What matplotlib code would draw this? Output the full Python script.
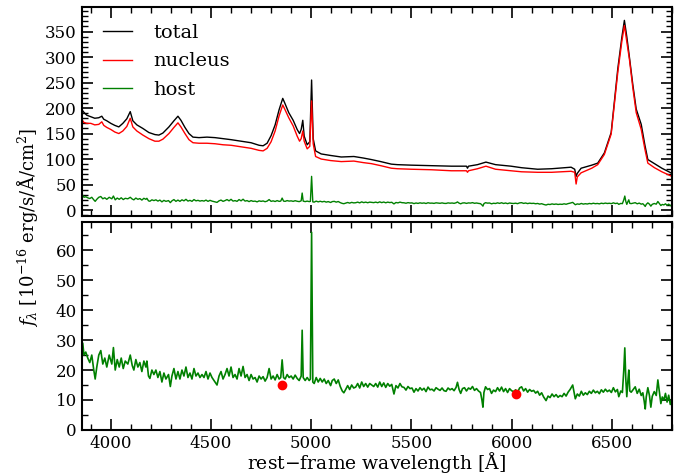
import matplotlib
matplotlib.use("Agg")
import matplotlib.pyplot as plt
from matplotlib.ticker import MultipleLocator

plt.rcParams['font.family'] = 'DejaVu Serif'
plt.rcParams['mathtext.fontset'] = 'dejavuserif'

# total / nucleus spectra
wave = [3855, 3865, 3880, 3900, 3920, 3940, 3955, 3965, 3980, 4000, 4020, 4040,
        4060, 4080, 4097, 4110, 4130, 4160, 4190, 4220, 4240, 4260, 4290, 4315,
        4335, 4350, 4370, 4390, 4410, 4440, 4480, 4520, 4560, 4600, 4650, 4700,
        4740, 4760, 4780, 4800, 4820, 4840, 4858, 4868, 4888, 4910, 4930, 4942,
        4950, 4958, 4965, 4980, 4993, 5002, 5010, 5022, 5050, 5097, 5150, 5213,
        5260, 5300, 5347, 5400, 5430, 5500, 5600, 5700, 5775, 5780, 5785, 5830,
        5872, 5920, 5997, 6050, 6130, 6200, 6297, 6315, 6322, 6328, 6347, 6400,
        6430, 6463, 6497, 6530, 6550, 6563, 6575, 6588, 6605, 6622, 6647, 6665,
        6680, 6713, 6750, 6800]
nucleus = [178, 172, 170, 170, 167, 168, 173, 166, 162, 158, 153, 150,
           155, 164, 180, 163, 155, 147, 140, 135, 135, 139, 150, 162,
           171, 163, 150, 138, 132, 131, 131, 130, 128, 127, 124, 121,
           117, 116, 121, 134, 155, 185, 206, 198, 181, 165, 145, 135,
           140, 155, 135, 120, 125, 214, 130, 105, 100, 97, 95, 96,
           93, 91, 87, 82, 81, 80, 79, 77, 77, 74, 77, 81,
           86, 80, 77, 75, 74, 74, 76, 74, 51, 65, 73, 82,
           89, 109, 149, 270, 330, 362, 330, 296, 240, 191, 158, 120,
           92, 83, 75, 66]
total = [197, 192, 186, 183, 180, 181, 184, 178, 175, 170, 166, 163,
         170, 179, 193, 175, 167, 160, 152, 148, 147, 151, 163, 175,
         184, 176, 162, 150, 143, 142, 143, 142, 140, 138, 135, 132,
         127, 126, 131, 146, 167, 197, 219, 210, 191, 176, 158, 150,
         158, 176, 145, 128, 134, 255, 140, 116, 110, 107, 104, 105,
         102, 99, 95, 90, 89, 88, 87, 86, 86, 82, 86, 89,
         94, 89, 86, 83, 80, 81, 84, 80, 66, 72, 82, 88,
         92, 112, 152, 277, 338, 372, 340, 300, 246, 198, 168, 128,
         99, 91, 82, 72]

# host galaxy spectrum
host_wave = [3855, 3860, 3866, 3875, 3885, 3895, 3905, 3915, 3922, 3930, 3940, 3950,
             3960, 3970, 3980, 3992, 4005, 4013, 4022, 4032, 4042, 4052, 4062, 4072,
             4085, 4097, 4107, 4115, 4125, 4135, 4145, 4155, 4165, 4175, 4180, 4188,
             4195, 4205, 4215, 4225, 4235, 4245, 4255, 4265, 4275, 4288, 4297, 4305,
             4315, 4325, 4335, 4345, 4355, 4365, 4375, 4385, 4395, 4405, 4415, 4425,
             4435, 4445, 4455, 4465, 4475, 4485, 4495, 4505, 4515, 4530, 4540, 4550,
             4560, 4570, 4580, 4590, 4600, 4610, 4620, 4630, 4640, 4650, 4660, 4670,
             4680, 4690, 4700, 4710, 4720, 4730, 4740, 4750, 4760, 4770, 4780, 4790,
             4800, 4810, 4820, 4830, 4840, 4848, 4855, 4862, 4870, 4880, 4890, 4900,
             4910, 4920, 4930, 4940, 4950, 4955, 4960, 4970, 4980, 4990, 4996, 5002,
             5008, 5015, 5025, 5035, 5045, 5055, 5065, 5075, 5085, 5097, 5105, 5115,
             5125, 5135, 5145, 5155, 5163, 5172, 5182, 5192, 5202, 5212, 5222, 5232,
             5242, 5252, 5262, 5272, 5282, 5292, 5302, 5312, 5322, 5332, 5342, 5352,
             5362, 5372, 5382, 5392, 5402, 5413, 5423, 5433, 5443, 5453, 5463, 5473,
             5483, 5493, 5503, 5513, 5523, 5533, 5543, 5553, 5563, 5573, 5583, 5593,
             5603, 5613, 5623, 5633, 5643, 5653, 5663, 5673, 5683, 5693, 5703, 5713,
             5723, 5730, 5738, 5746, 5755, 5765, 5775, 5785, 5795, 5805, 5815, 5825,
             5835, 5845, 5852, 5857, 5862, 5870, 5880, 5890, 5900, 5910, 5920, 5930,
             5940, 5950, 5960, 5970, 5980, 5990, 6000, 6010, 6020, 6030, 6040, 6050,
             6060, 6070, 6080, 6090, 6100, 6110, 6120, 6130, 6140, 6150, 6160, 6172,
             6182, 6192, 6202, 6212, 6222, 6232, 6242, 6252, 6262, 6272, 6282, 6292,
             6305, 6312, 6318, 6328, 6338, 6348, 6358, 6368, 6378, 6388, 6398, 6408,
             6418, 6428, 6438, 6448, 6458, 6468, 6478, 6488, 6498, 6508, 6518, 6528,
             6535, 6545, 6553, 6560, 6565, 6570, 6575, 6580, 6585, 6590, 6597, 6607,
             6617, 6627, 6637, 6647, 6655, 6662, 6667, 6672, 6680, 6688, 6695, 6702,
             6712, 6722, 6730, 6738, 6745, 6752, 6760, 6768, 6776, 6784, 6792, 6800]
host = [24, 29, 25, 26, 24, 22.5, 25, 20, 17, 21, 25, 26.5,
        22, 24, 21, 25, 22, 27.5, 20, 23.5, 21, 24, 20.5, 23,
        22, 25, 21.5, 20, 23.5, 21, 22.5, 19.5, 23, 21, 23, 18,
        17.2, 20, 18.5, 20, 17.5, 19.5, 16, 19, 17, 18.5, 14.5, 18,
        20.5, 17, 19.5, 17, 20, 18, 21, 17.5, 19, 17, 20.5, 18,
        19, 17.5, 18.5, 17.5, 19.5, 17, 19, 17.5, 16.5, 15, 18, 19.5,
        17, 18.5, 20.5, 18, 21, 17.5, 18.5, 17, 20.5, 18, 21.2, 17.5,
        18.5, 16.5, 18.5, 17, 17.5, 16, 18, 17, 17.8, 16.3, 17.5, 20.5,
        17, 18, 16.7, 18.5, 17, 17.5, 23.4, 17.5, 17, 18.5, 17.5, 18,
        17, 18.3, 17.2, 16.5, 18, 33.3, 17.5, 16.5, 17.5, 16.5, 17, 66,
        16, 15.5, 17.5, 16, 17.2, 16, 17, 15.5, 16.5, 14.8, 16.5, 17,
        15.5, 16.7, 14.5, 13, 12.4, 13.5, 14.8, 13.5, 15, 14, 14.3, 15.5,
        14, 16, 14.5, 15.5, 14.3, 15.5, 15, 14.5, 15.5, 14.3, 16, 14.5,
        15.7, 14.2, 15.5, 14.6, 15.2, 12, 14.8, 14, 15.5, 14.4, 14.2, 13.3,
        14.5, 13.8, 14, 12.6, 13.8, 13, 14.1, 13.3, 13.9, 12.8, 14.3, 13.4,
        13.6, 13, 14.1, 13.6, 13.2, 14, 13.1, 12.9, 14, 13.4, 13.8, 13.1,
        14.2, 15.9, 13.5, 12.2, 13.8, 14.1, 13, 14, 13.6, 14.5, 13.2, 13.8,
        13, 12.5, 10, 7.6, 12.5, 14.4, 13.5, 13.8, 12.2, 13.3, 12.8, 14.1,
        13, 14.3, 12.8, 13.8, 12.5, 13.8, 13.1, 12.8, 13.4, 12.5, 14, 14.4,
        13, 13.8, 12.6, 13.5, 12.9, 13.2, 12.3, 12.9, 11.6, 12.4, 11, 9.8,
        11.3, 10.8, 12, 11.1, 11.8, 10.9, 11.5, 11.1, 12.2, 11.3, 12.6, 13.5,
        15, 12.5, 10.4, 12, 11.3, 12.9, 11.6, 12.4, 11.8, 12.9, 12.2, 13.3,
        12.4, 12.9, 12.1, 13.4, 12.6, 13.6, 12.8, 13.3, 12.5, 14.1, 12.7, 13.5,
        11.1, 13, 12.5, 20, 27.4, 17, 11.1, 16, 20, 13, 12.6, 13.5,
        14.4, 12.2, 13.6, 11.5, 12.4, 9.5, 7, 11, 14.1, 11.5, 7.6, 11.2,
        12.8, 11.5, 16.7, 12.6, 8.8, 11, 10, 12.2, 9.3, 11.6, 8.5, 10]

# photometric points on the host
dot_wave = [4855, 6020]
dot_flux = [15.0, 11.9]

fig = plt.figure(figsize=(6.87, 4.74), dpi=100)
ax1 = fig.add_axes([0.119, 0.544, 0.859, 0.441])
ax2 = fig.add_axes([0.119, 0.093, 0.859, 0.439])

ax1.plot(wave, total, color='black', lw=1.0, label='total')
ax1.plot(wave, nucleus, color='red', lw=1.0, label='nucleus')
ax1.plot(host_wave, host, color='green', lw=1.0, label='host')
ax1.legend(loc='upper left', bbox_to_anchor=(0.022, 0.958), borderaxespad=0,
           frameon=False, fontsize=14, handlelength=1.5,
           handletextpad=1.1, labelspacing=0.55)

ax2.plot(host_wave, host, color='green', lw=1.2)
ax2.plot(dot_wave, dot_flux, 'o', color='red', ms=6, zorder=3)

ax1.set_xlim(3855, 6800)
ax2.set_xlim(3855, 6800)
ax1.set_ylim(-12, 398)
ax2.set_ylim(0, 69.5)

ax1.yaxis.set_major_locator(MultipleLocator(50))
ax1.yaxis.set_minor_locator(MultipleLocator(10))
ax2.yaxis.set_major_locator(MultipleLocator(10))
ax2.yaxis.set_minor_locator(MultipleLocator(5))
for ax in (ax1, ax2):
    ax.xaxis.set_major_locator(MultipleLocator(500))
    ax.xaxis.set_minor_locator(MultipleLocator(100))
    ax.tick_params(which='both', direction='in', top=True, right=True, labelsize=12)
    ax.tick_params(which='major', length=8, width=1.2)
    ax.tick_params(which='minor', length=4, width=1.0)
    for s in ax.spines.values():
        s.set_linewidth(1.5)
ax1.tick_params(labelbottom=False)

ax2.set_xlabel('rest$-$frame wavelength [Å]', fontsize=13.5, labelpad=-1)
fig.text(0.04, 0.52, r'$f_\lambda$ [$10^{-16}$ erg/s/Å/cm$^2$]', rotation=90,
         fontsize=13, ha='center', va='center')

fig.savefig('out.png', dpi=100)
